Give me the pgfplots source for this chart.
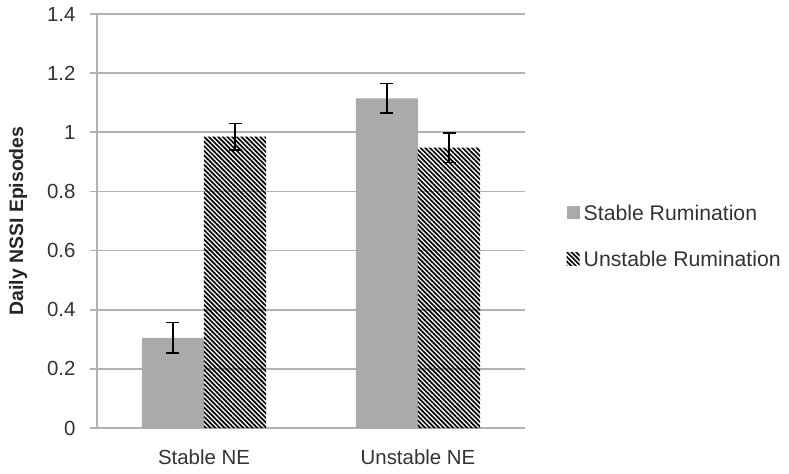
\documentclass[border=0pt]{standalone}
\usepackage{pgfplots}
\pgfplotsset{compat=1.18}
\usepackage{fontspec}
\setmainfont{Liberation Sans}
\usetikzlibrary{patterns.meta}
\definecolor{barg}{RGB}{170,170,170}
\definecolor{gridg}{RGB}{178,178,178}
\begin{document}
\begin{tikzpicture}
\path[use as bounding box] (-97bp,-46bp) rectangle (692bp,428bp);
\begin{axis}[
  at={(0,0)}, anchor=south west,
  scale only axis, width=428bp, height=414bp,
  ybar=0pt, bar width=0.29,
  xmin=-0.5, xmax=1.5, ymin=0, ymax=1.4,
  xtick={0,1}, xticklabels={Stable NE, Unstable NE},
  ytick={0,0.2,0.4,0.6,0.8,1,1.2,1.4},
  yticklabels={0,0.2,0.4,0.6,0.8,1,1.2,1.4},
  axis x line=bottom, axis y line=left,
  axis line style={gridg, line width=1.6bp, -},
  x tick style={draw=none},
  y tick style={gridg, line width=1.6bp},
  major tick length=7bp,
  tick align=outside,
  ymajorgrids, grid style={gridg, line width=1.6bp},
  ticklabel style={font=\fontsize{20.5}{24}\selectfont, text=black!80},
  yticklabel style={xshift=-11bp},
  xticklabel style={yshift=-11bp},
  ylabel={\bfseries Daily NSSI Episodes},
  every axis y label/.style={at={(axis description cs:-0.1846,0.5)}, anchor=center, rotate=90},
  ylabel style={font=\fontsize{19.5}{22}\selectfont, text=black!85},
  legend style={draw=none, at={(1.097,0.463)}, anchor=west,
    font=\fontsize{21.3}{25}\selectfont, text=black!80,
    row sep=25bp, cells={anchor=west}, inner xsep=0pt},
  legend image code/.code={\path[#1] (0bp,-6bp) rectangle (13bp,7bp); \path (15bp,0bp);},
  error bars/error bar style={black, line width=1.4bp},
  error bars/error mark options={rotate=90, mark size=6.5bp, black, line width=1.4bp},
]
\addplot[fill=barg, draw=none,
  error bars/.cd, y dir=both, y explicit]
  coordinates {(0,0.305) +- (0,0.052) (1,1.115) +- (0,0.05)};
\addplot[pattern={Lines[angle=-45,distance=3.3bp,line width=1.7bp]}, pattern color=black, draw=none,
  error bars/.cd, y dir=both, y explicit]
  coordinates {(0,0.985) +- (0,0.045) (1,0.948) +- (0,0.05)};
\legend{Stable Rumination, Unstable Rumination}
\end{axis}
\end{tikzpicture}
\end{document}
